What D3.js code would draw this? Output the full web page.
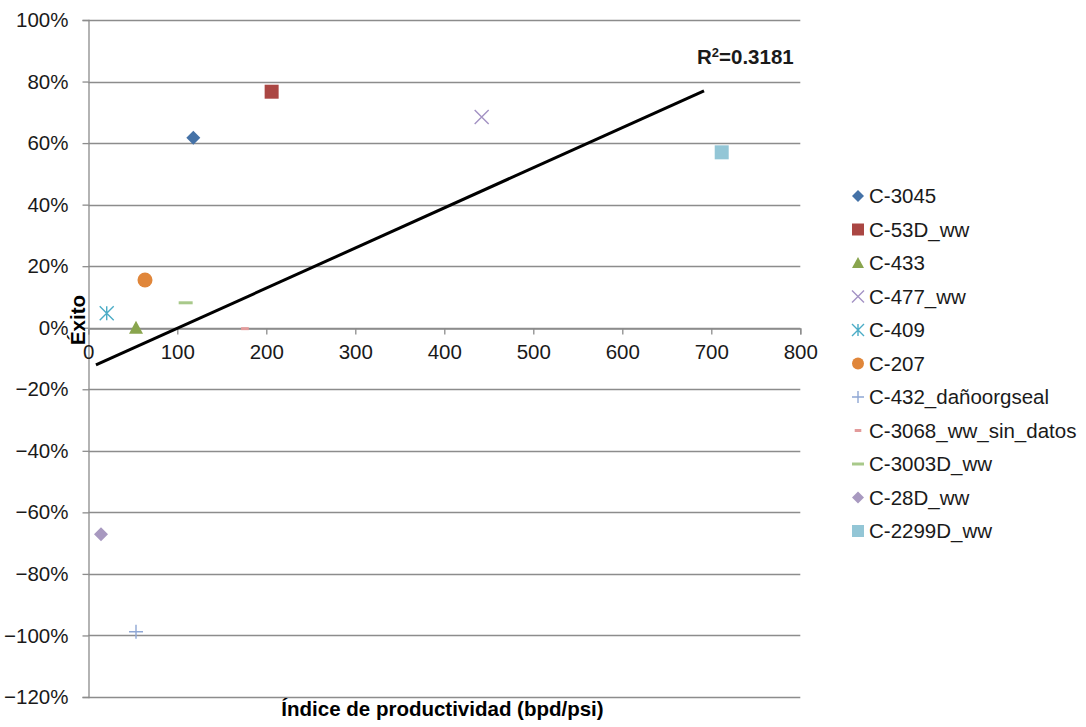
<!DOCTYPE html>
<html>
<head>
<meta charset="utf-8">
<script src="https://cdn.jsdelivr.net/npm/d3@7"></script>
<style>
html,body{margin:0;padding:0;background:#fff;}
svg{display:block;font-family:"Liberation Sans",Arial,sans-serif;}
</style>
</head>
<body>
<svg id="chart" width="1086" height="727"></svg>
<script>
// ---- data ----
const seriesNames = ["C-3045","C-53D_ww","C-433","C-477_ww","C-409","C-207","C-432_dañoorgseal","C-3068_ww_sin_datos","C-3003D_ww","C-28D_ww","C-2299D_ww"];
const indiceValues = [118, 206, 53.6, 442, 20.7, 63.7, 53.6, 176, 109.4, 14.3, 711.7];
const exitoValues = [0.617, 0.767, 0.0, 0.685, 0.047, 0.155, -0.988, -0.003, 0.081, -0.671, 0.570];
const trendX = [8.6, 691.8];
const trendY = [-0.121, 0.770];
const xTicks = [0,100,200,300,400,500,600,700,800];
const yTicks = [1.0,0.8,0.6,0.4,0.2,0,-0.2,-0.4,-0.6,-0.8,-1.0,-1.2];
const xTitle = "Índice de productividad (bpd/psi)";
const yTitle = "Éxito";

// ---- styles ----
const colors = ["#4572A7","#AA4643","#89A54E","#A392C4","#4BACC6","#E0863A","#8FA7D4","#E39B9B","#A8C98A","#A899C0","#93C6D6"];
const shapes = ["diamond","square","triangle","x","asterisk","circle","plus","dashSmall","dash","diamond","square"];
const FS = 20.5;
const FF = "\"Liberation Sans\",Arial,sans-serif";

const svg = d3.select("#chart");
const x = d3.scaleLinear().domain([0,800]).range([88.3,800.3]);
const y = d3.scaleLinear().domain([-1.2,1.0]).range([697,20]);

const gridColor = "#8c8c8c";

// gridlines
svg.append("g").selectAll("line").data(yTicks).join("line")
  .attr("x1", x(0)).attr("x2", x(800))
  .attr("y1", d=>Math.round(y(d))+0.5).attr("y2", d=>Math.round(y(d))+0.5)
  .attr("stroke", gridColor).attr("stroke-width", 1.3);

// y axis
const yAxis = d3.axisLeft(y).tickValues(yTicks).tickFormat(d3.format(".0%")).tickSize(6).tickPadding(14);
const gy = svg.append("g").attr("transform", `translate(${Math.round(x(0))+0.5},0)`).call(yAxis);
gy.select(".domain").attr("stroke", gridColor).attr("stroke-width",1.3);
gy.selectAll(".tick line").attr("stroke", gridColor).attr("stroke-width",1.3);
gy.selectAll(".tick text").attr("font-size", FS).attr("fill", "#1a1a1a").attr("font-family",FF);

// x axis at 0%
const xAxis = d3.axisBottom(x).tickValues(xTicks).tickFormat(d3.format("d")).tickSize(6).tickPadding(10);
const gx = svg.append("g").attr("transform", `translate(0,${Math.round(y(0))+0.5})`).call(xAxis);
gx.select(".domain").attr("stroke", gridColor).attr("stroke-width",1.3);
gx.selectAll(".tick line").attr("stroke", gridColor).attr("stroke-width",1.3);
gx.selectAll(".tick text").attr("font-size", FS).attr("fill", "#1a1a1a").attr("font-family",FF);

// marker path generator
function markerPath(shape, s) {
  const h = s/2;
  switch(shape){
    case "diamond": return `M0,${-h}L${h},0L0,${h}L${-h},0Z`;
    case "square": return `M${-h},${-h}H${h}V${h}H${-h}Z`;
    case "triangle": return `M0,${-h}L${h},${h*0.85}L${-h},${h*0.85}Z`;
    case "circle": return d3.symbol(d3.symbolCircle, Math.PI*h*h)();
    case "x": return `M${-h},${-h}L${h},${h}M${h},${-h}L${-h},${h}`;
    case "plus": return `M${-h},0H${h}M0,${-h}V${h}`;
    case "asterisk": return `M${-h},${-h}L${h},${h}M${h},${-h}L${-h},${h}M0,${-h}V${h}`;
    case "dash": return `M${-h},${-1.5}H${h}V${1.5}H${-h}Z`;
    case "dashSmall": return `M${-h*0.55},${-1.5}H${h*0.55}V${1.5}H${-h*0.55}Z`;
  }
}
const strokeShapes = new Set(["x","plus","asterisk"]);

function drawMarker(g, shape, color, s){
  const p = g.append("path").attr("d", markerPath(shape, s));
  if (strokeShapes.has(shape)) p.attr("fill","none").attr("stroke",color).attr("stroke-width",1.4);
  else p.attr("fill",color);
}

// points
const pts = svg.append("g");
seriesNames.forEach((n,i)=>{
  const g = pts.append("g").attr("transform",`translate(${x(indiceValues[i])},${y(exitoValues[i])})`);
  const sz = shapes[i]==="circle" ? 15 : 14;
  drawMarker(g, shapes[i], colors[i], sz);
});

// trendline
svg.append("line")
  .attr("x1", x(trendX[0])).attr("y1", y(trendY[0]))
  .attr("x2", x(trendX[1])).attr("y2", y(trendY[1]))
  .attr("stroke","#000").attr("stroke-width",3);

// R2 label
const r2 = svg.append("text").attr("x", 697).attr("y", 64).attr("font-size", FS).attr("font-weight","bold").attr("fill","#1a1a1a");
r2.append("tspan").text("R");
r2.append("tspan").text("2").attr("font-size",13).attr("dy",-7);
r2.append("tspan").text("=0.3181").attr("dy",7);

// axis titles
svg.append("text").attr("x", 442.5).attr("y", 716).attr("text-anchor","middle")
  .attr("font-size", FS).attr("font-weight","bold").attr("fill","#000").text(xTitle);
svg.append("text").attr("transform","translate(85,320) rotate(-90)").attr("text-anchor","middle")
  .attr("font-size", FS).attr("font-weight","bold").attr("fill","#000").text(yTitle);

// legend
const leg = svg.append("g");
seriesNames.forEach((n,i)=>{
  const cy = 196 + i*33.5;
  const g = leg.append("g").attr("transform",`translate(858,${cy})`);
  drawMarker(g, shapes[i], colors[i], 12);
  leg.append("text").attr("x", 869).attr("y", cy).attr("dy","0.35em")
    .attr("font-size", FS).attr("fill","#1a1a1a").text(n);
});
</script>
</body>
</html>
